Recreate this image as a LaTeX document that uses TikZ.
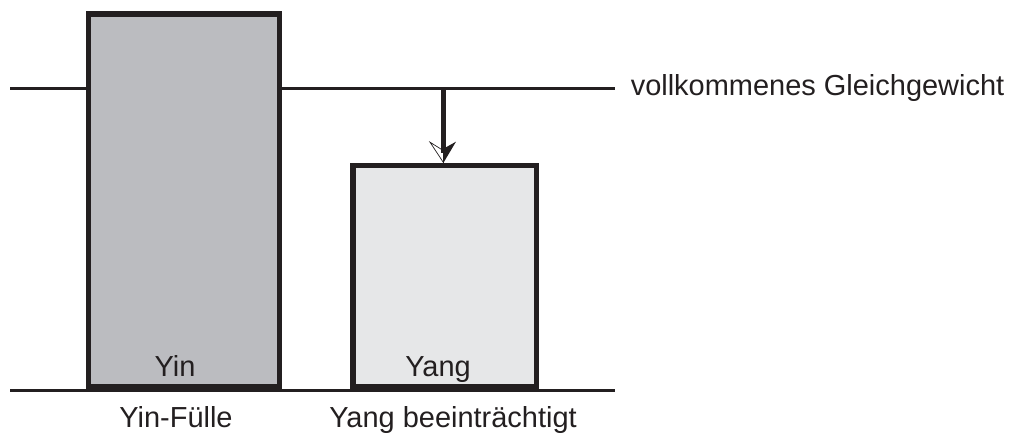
\documentclass[tikz,border=0pt]{standalone}
\usepackage{fontspec}
\setmainfont{Liberation Sans}
\usepackage{tikz}

\definecolor{ink}{RGB}{35,31,32}
\definecolor{yingray}{RGB}{187,188,192}
\definecolor{yanggray}{RGB}{230,231,232}

\tikzset{
  levelbox/.style={draw=ink, line width=3.8pt, inner sep=0pt},
  label/.style={text=ink, inner sep=0pt, font=\fontsize{20.6}{24}\selectfont}
}

\begin{document}
\begin{tikzpicture}[x=0.025cm, y=-0.025cm]
    \useasboundingbox (0,0) rectangle (1012,434);

    % Draw balance line and ground line
    \coordinate (eq) at (443.5,88.5);
    \draw[ink, line width=1.7pt] (10,88.5) -- (615,88.5);
    \draw[ink, line width=2pt] (10,390.7) -- (615,390.7);

    % Draw the two bars
    \node[levelbox, fill=yingray, minimum width=191*0.025cm, minimum height=373*0.025cm] (yin) at (184,200.5) {};
    \node[levelbox, fill=yanggray, minimum width=183.7*0.025cm, minimum height=221.7*0.025cm] (yang) at (444.9,276.2) {};

    % Arrow from the balance line down to Yang
    \coordinate (tip) at (yang.north -| eq);
    \draw[ink, line width=3pt] (eq) -- ([shift={(0,-10)}]tip);
    \fill[ink] ([shift={(12.5,-21)}]tip) -- (tip) -- ([shift={(0,-14)}]tip) -- cycle;
    \draw[ink, line width=0.5pt, line join=miter] ([shift={(-13.5,-20.5)}]tip) -- (tip) -- ([shift={(0,-12)}]tip) -- cycle;

    % Labels
    \node[label, anchor=base] (yinname) at (175,376.7) {Yin};
    \node[label, anchor=base] (yangname) at (438,376.7) {Yang};
    \node[label, anchor=base] (yintext) at (176,427) {Yin-Fülle};
    \node[label, anchor=base] (yangtext) at (453,427) {Yang beeinträchtigt};
    \node[label, anchor=base west] (eqtext) at (630.5,95) {vollkommenes Gleichgewicht};

\end{tikzpicture}
\end{document}
